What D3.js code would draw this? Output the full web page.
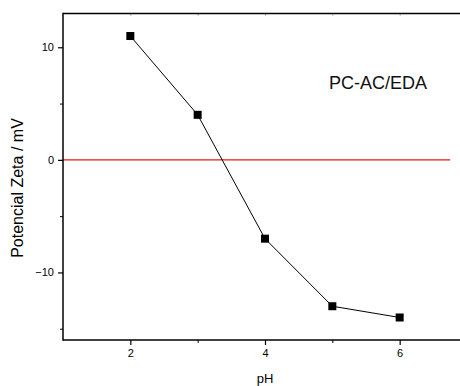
<!DOCTYPE html>
<html><head><meta charset="utf-8">
<script src="https://d3js.org/d3.v7.min.js"></script>
<style>body{margin:0;background:#fff}svg{display:block}</style>
</head><body>
<script>
const pH = [2, 3, 4, 5, 6];
const zeta = [11, 4, -7, -13, -14];
const xTicks = [2, 4, 6];
const xMinor = [3, 5];
const yTicks = [-10, 0, 10];
const yMinor = [-15, -5, 5];
const refLineX = [1, 6.75];
const refLineY = 0;
const labelText = "PC-AC/EDA";

const W = 460, H = 386;
const m = {left: 63, top: 13.5, right: 467, bottom: 340};
const svg = d3.select("body").append("svg").attr("width", W).attr("height", H)
  .style("font-family", "Arial, 'Liberation Sans', sans-serif");

const x = d3.scaleLinear().domain([1, 7]).range([m.left, m.right]);
const y = d3.scaleLinear().domain([-16, 13]).range([m.bottom, m.top]);

// reference line
svg.append("line")
  .attr("x1", x(refLineX[0])).attr("x2", x(refLineX[1]))
  .attr("y1", y(refLineY)).attr("y2", y(refLineY))
  .attr("stroke", "#e01a1a").attr("stroke-width", 1.2);

// top faint ticks
const topG = svg.append("g").attr("transform", `translate(0,${m.top})`)
  .call(d3.axisBottom(x).tickValues([2,3,4,5,6]).tickSize(2).tickFormat(""));
topG.select(".domain").remove();
topG.selectAll(".tick line").attr("stroke", "#999");
svg.append("line").attr("x1", m.left).attr("x2", W + 5).attr("y1", m.top).attr("y2", m.top)
  .attr("stroke", "#000").attr("stroke-width", 1.5);

// bottom axis
const xa = svg.append("g").attr("transform", `translate(0,${m.bottom})`)
  .call(d3.axisBottom(x).tickValues(xTicks).tickSize(5).tickPadding(4).tickFormat(d3.format("d")));
xa.select(".domain").remove();
xa.selectAll(".tick line").attr("stroke-width", 1.2);
xa.selectAll("text").attr("font-size", 11).attr("font-family", "Arial, 'Liberation Sans', sans-serif").attr("fill", "#000");
const xm = svg.append("g").attr("transform", `translate(0,${m.bottom})`)
  .call(d3.axisBottom(x).tickValues(xMinor).tickSize(3).tickFormat(""));
xm.select(".domain").remove();
svg.append("line").attr("x1", m.left).attr("x2", W + 5).attr("y1", m.bottom).attr("y2", m.bottom)
  .attr("stroke", "#000").attr("stroke-width", 1.5);

// left axis
const ya = svg.append("g").attr("transform", `translate(${m.left},0)`)
  .call(d3.axisLeft(y).tickValues(yTicks).tickSize(5).tickPadding(4).tickFormat(d3.format("d")));
ya.select(".domain").remove();
ya.selectAll(".tick line").attr("stroke-width", 1.2);
ya.selectAll("text").attr("font-size", 11).attr("font-family", "Arial, 'Liberation Sans', sans-serif").attr("fill", "#000");
const ym = svg.append("g").attr("transform", `translate(${m.left},0)`)
  .call(d3.axisLeft(y).tickValues(yMinor).tickSize(3).tickFormat(""));
ym.select(".domain").remove();
svg.append("line").attr("x1", m.left).attr("x2", m.left).attr("y1", m.top - 0.75).attr("y2", m.bottom + 0.75)
  .attr("stroke", "#000").attr("stroke-width", 1.5);

// series line
const pts = pH.map((v, i) => [v, zeta[i]]);
svg.append("path").datum(pts)
  .attr("d", d3.line().x(d => x(d[0])).y(d => y(d[1])))
  .attr("fill", "none").attr("stroke", "#000").attr("stroke-width", 1);
svg.selectAll("rect.pt").data(pts).enter().append("rect")
  .attr("class", "pt")
  .attr("x", d => x(d[0]) - 4).attr("y", d => y(d[1]) - 4)
  .attr("width", 8).attr("height", 8).attr("fill", "#000");

// labels
svg.append("text").attr("x", 378).attr("y", 88.5).attr("text-anchor", "middle")
  .attr("font-size", 18).attr("fill", "#111").text(labelText);
svg.append("text").attr("x", 265).attr("y", 383).attr("text-anchor", "middle")
  .attr("font-size", 13).attr("fill", "#000").text("pH");
svg.append("text").attr("transform", "translate(23,188) rotate(-90)").attr("text-anchor", "middle")
  .attr("font-size", 16).attr("fill", "#000").text("Potencial Zeta / mV");
</script>
</body></html>
